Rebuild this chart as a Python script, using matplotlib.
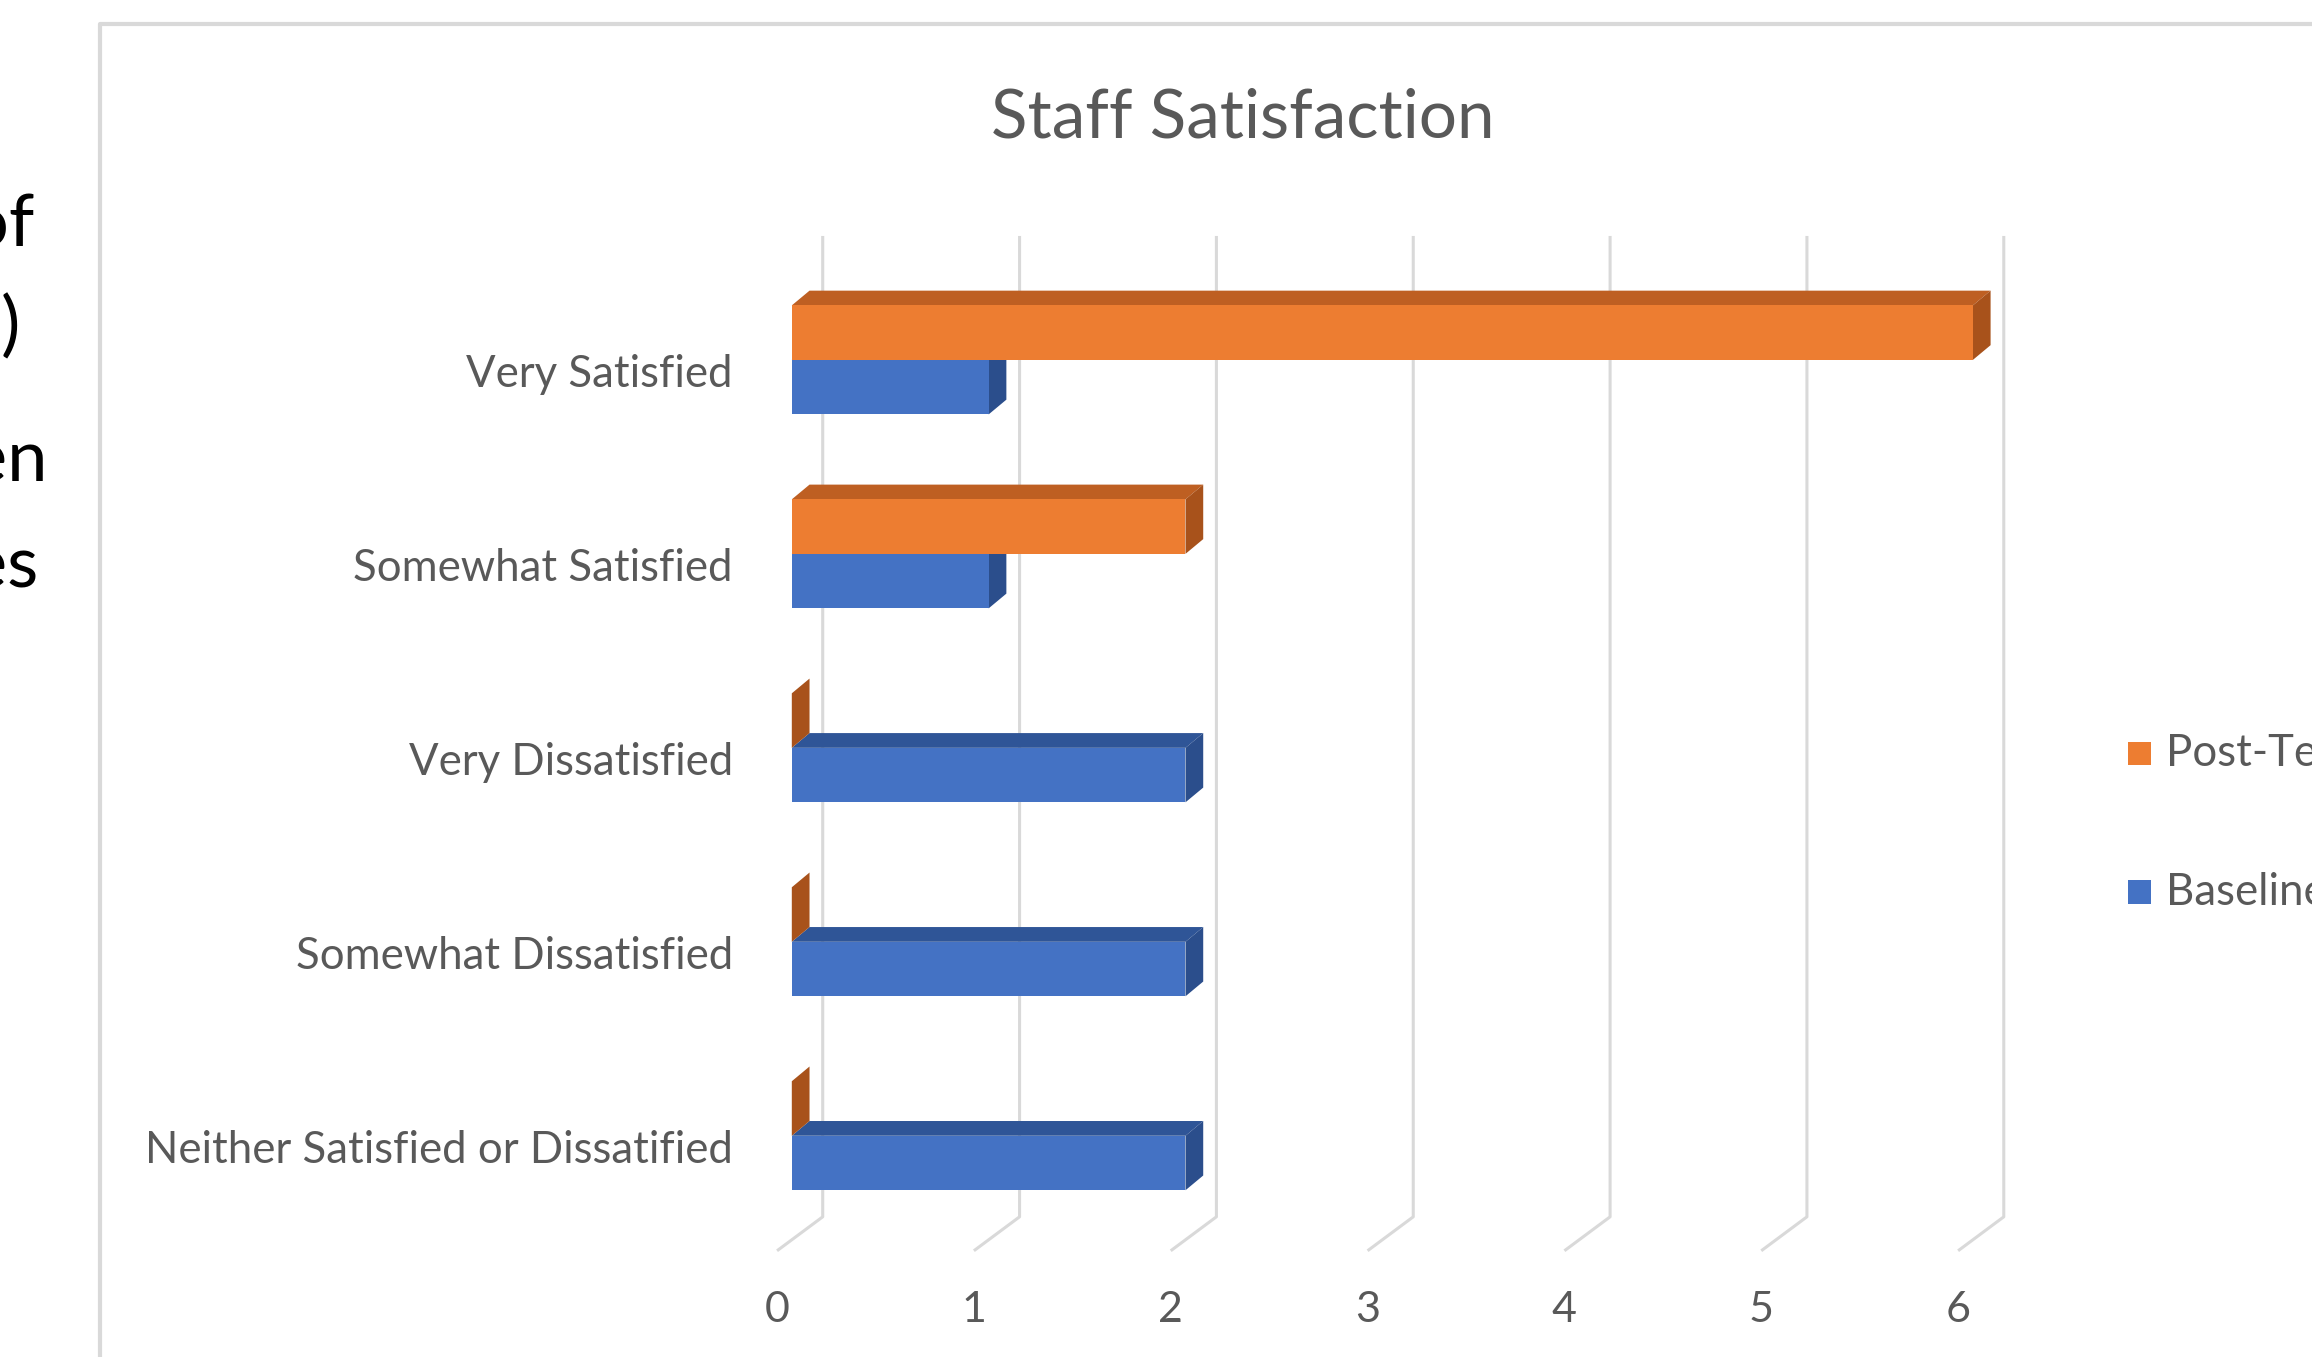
import matplotlib
matplotlib.use("Agg")
import matplotlib.pyplot as plt
from matplotlib.patches import Polygon, Rectangle
from matplotlib.lines import Line2D

plt.rcParams['font.family'] = ['Lato', 'DejaVu Sans']

# Data
categories = ['Very Satisfied', 'Somewhat Satisfied', 'Very Dissatisfied',
              'Somewhat Dissatisfied', 'Neither Satisfied or Dissatified']
post_test = [6, 2, 0, 0, 0]
baseline = [1, 1, 2, 2, 2]
series_names = ['Post-Test', 'Baseline']
x_ticks = [0, 1, 2, 3, 4, 5, 6]

# Colours (front, top, side)
orange = ('#ED7D31', '#BE5F22', '#A8521B')
blue = ('#4472C4', '#2F5597', '#2B4E8C')
grid_col = '#D9D9D9'
text_col = '#595959'

fig = plt.figure(figsize=(23.12, 13.57), dpi=100)
ax = fig.add_axes([0, 0, 1, 1])
ax.set_xlim(-4.0225, 7.7228)
ax.set_ylim(5.1407, -1.8555)
ax.axis('off')

bar_h = 0.281
dx, dy = 0.09, 0.076   # 3D depth of bars
gx = 0.157             # offset of back wall gridlines

# gridlines on back wall plus floor diagonals
for v in x_ticks:
    ax.plot([v + gx, v + gx, v - 0.075], [-0.639, 4.418, 4.593],
            color=grid_col, lw=2.2, zorder=1, solid_capstyle='butt')
    ax.text(v - 0.075, 4.897, str(v), ha='center', va='center',
            fontsize=31, color=text_col)


def bar3d(y0, width, cols, z):
    front, top, side = cols
    y1 = y0 + bar_h
    # top face
    ax.add_patch(Polygon([(0, y0), (dx, y0 - dy), (width + dx, y0 - dy), (width, y0)],
                         closed=True, facecolor=top, edgecolor='none', zorder=z))
    # side face
    ax.add_patch(Polygon([(width, y0), (width + dx, y0 - dy), (width + dx, y1 - dy), (width, y1)],
                         closed=True, facecolor=side, edgecolor='none', zorder=z))
    if width > 0:
        ax.barh(y0 + bar_h / 2, width, height=bar_h, left=0, color=front,
                edgecolor='none', zorder=z + 0.1)


for i, cat in enumerate(categories):
    bar3d(i, baseline[i], blue, 2)
    bar3d(i - bar_h, post_test[i], orange, 3)
    ax.text(-0.30, i + 0.076, cat, ha='right', va='center',
            fontsize=31.5, color=text_col)

# legend
for k, (name, cols) in enumerate(zip(series_names, [orange, blue])):
    ly = [2.030, 2.745][k]
    ax.add_patch(Rectangle((6.787, ly - 0.061), 0.12, 0.122, facecolor=cols[0],
                           edgecolor='none', zorder=4))
    ax.text(6.981, ly, name, ha='left', va='center', fontsize=31.5, color=text_col)

# title
fig.text(0.5376, 0.913, 'Staff Satisfaction', ha='center', va='center',
         fontsize=48.5, color=text_col)

# chart area border (cropped)
fig.add_artist(Line2D([0.04337, 0.04337, 1.0], [0.0, 0.98261, 0.98261],
                      transform=fig.transFigure, color=grid_col, lw=3))

# cropped slide text at left edge
for s, xr, yb in [('of', 0.0150, 0.818), (')', 0.0088, 0.743),
                  ('en', 0.0205, 0.645), ('es', 0.0166, 0.567)]:
    fig.text(xr, yb, s, ha='right', va='baseline', fontsize=52, color='black')

fig.savefig('out.png', dpi=100)
